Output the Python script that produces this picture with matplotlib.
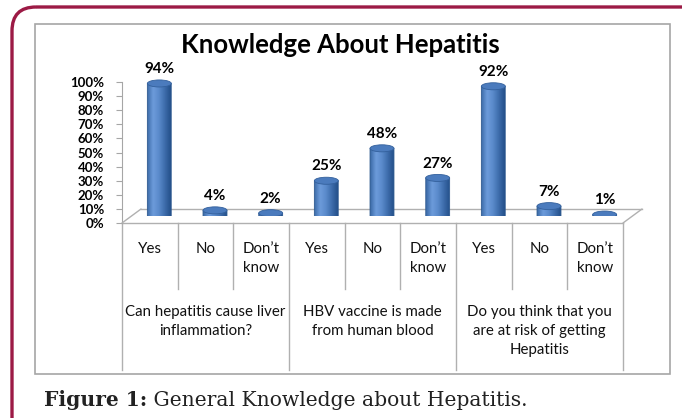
import matplotlib
matplotlib.use('Agg')
import matplotlib.pyplot as plt
import numpy as np
from matplotlib.patches import FancyBboxPatch, Rectangle, Ellipse, PathPatch, ConnectionPatch
from matplotlib.path import Path
from matplotlib.transforms import ScaledTranslation, blended_transform_factory
from matplotlib.colors import LinearSegmentedColormap

plt.rcParams['font.family'] = ['Lato', 'DejaVu Sans']

title = 'Knowledge About Hepatitis'
questions = ['Can hepatitis cause liver\ninflammation?',
             'HBV vaccine is made\nfrom human blood',
             'Do you think that you\nare at risk of getting\nHepatitis']
answers = ['Yes', 'No', 'Don’t\nknow']
values = [[94, 4, 2],
          [25, 48, 27],
          [92, 7, 1]]
yticks = list(range(0, 101, 10))
caption_bold = 'Figure 1:'
caption_text = ' General Knowledge about Hepatitis.'

W, H = 682, 418
fig = plt.figure(figsize=(W / 100, H / 100), dpi=100)

# background axes in pixel units, for frame and caption
bg = fig.add_axes([0, 0, 1, 1])
bg.set_xlim(0, W)
bg.set_ylim(H, 0)
bg.axis('off')
bg.add_patch(FancyBboxPatch((12, 7), 720, 440, boxstyle='round,pad=0,rounding_size=24',
                            fill=False, ec='#9c1a45', lw=2.4))
bg.add_patch(Rectangle((35, 24), 635, 350, fill=False, ec='#a6a6a6', lw=1.2))
bg.text(340, 45, title, ha='center', va='center', fontsize=18.5, fontweight='bold')

# plot area
x0, x1 = 122, 623
y0, y100 = 223, 82
ax = fig.add_axes([x0 / W, 1 - y0 / H, (x1 - x0) / W, (y0 - y100) / H])
ax.patch.set_visible(False)
for s in ['top', 'right', 'bottom']:
    ax.spines[s].set_visible(False)
ax.spines['left'].set_color('#a6a6a6')
ax.set_xticks([])
ax.set_yticks(yticks)
ax.set_yticklabels([f'{t}%' for t in yticks], fontweight='bold', fontsize=9.5)
ax.tick_params(axis='y', length=4, color='#a6a6a6', pad=9)

ncol = len(values) * len(answers)
gray = '#b0b0b0'
# 3d floor
back = ax.transData + ScaledTranslation(19 / 100, 14 / 100, fig.dpi_scale_trans)
ax.plot([0, ncol], [0, 0], color=gray, lw=1, clip_on=False)
ax.plot([0, ncol], [0, 0], color=gray, lw=1, clip_on=False, transform=back)
for xe in [0, ncol]:
    fig.add_artist(ConnectionPatch((xe, 0), (xe, 0), coordsA=ax.transData, coordsB=back,
                                   color=gray, lw=1))
ax.set_xlim(0, ncol)
ax.set_ylim(0, 100)

# bars sit half way into the floor depth
ax_bar = fig.add_axes([(x0 + 9.5) / W, 1 - (y0 - 7) / H, (x1 - x0) / W, (y0 - y100) / H])
ax_bar.axis('off')

cmap = LinearSegmentedColormap.from_list('cyl', ['#3a69a6', '#6d9cdb', '#5a8acb', '#3d6cab', '#24508a'])
grad = np.linspace(0, 1, 64).reshape(1, -1)
bw = 0.43
eh = 5.0
t = np.linspace(np.pi, 2 * np.pi, 40)
for g, vals in enumerate(values):
    for a, v in enumerate(vals):
        xc = g * len(answers) + a + 0.5
        xl, xr = xc - bw / 2, xc + bw / 2
        arc = np.column_stack([xc + bw / 2 * np.cos(t), eh / 2 * np.sin(t)])
        verts = np.vstack([[xl, v], arc, [xr, v], [xl, v]])
        body = Path(verts, closed=True)
        clip = PathPatch(body, fc='none', ec='none')
        ax_bar.add_patch(clip)
        im = ax_bar.imshow(grad, cmap=cmap, extent=[xl, xr, -eh, v], aspect='auto',
                           interpolation='bicubic', zorder=3)
        im.set_clip_path(clip)
        ax_bar.add_patch(PathPatch(body, fc='none', ec='#2f5a90', lw=0.6, zorder=3.5))
        ax_bar.add_patch(Ellipse((xc, v), bw, eh, fc='#4b7bbd', ec='#33609c', lw=0.6, zorder=4))
        ax_bar.annotate(f'{v}%', (xc, v), xytext=(0, 7.5), textcoords='offset points',
                        ha='center', va='baseline', fontsize=11, fontweight='bold')
ax_bar.set_xlim(0, ncol)
ax_bar.set_ylim(0, 100)

# category table below the floor
tr = blended_transform_factory(ax.transData, bg.transData)
for i in range(ncol + 1):
    bottom = 370 if i % len(answers) == 0 else 289
    bg.plot([i, i], [223, bottom], color=gray, lw=1, transform=tr)
for g, q in enumerate(questions):
    for a, lab in enumerate(answers):
        bg.text(g * len(answers) + a + 0.5, 242, lab, transform=tr, ha='center', va='top',
                fontsize=10.8, linespacing=1.45, color='#111111')
    bg.text(g * len(answers) + len(answers) / 2, 305, q, transform=tr, ha='center', va='top',
            fontsize=10.8, linespacing=1.45, color='#111111')

# caption
t1 = bg.text(44, 400, caption_bold, ha='left', va='center', fontsize=14.6, fontweight='bold',
             family='DejaVu Serif', color='#222222')
bg.annotate(caption_text, xy=(1, 0), xycoords=t1, ha='left', va='bottom', fontsize=14.6,
            family='DejaVu Serif', color='#222222')

fig.savefig('out.png', dpi=100)
